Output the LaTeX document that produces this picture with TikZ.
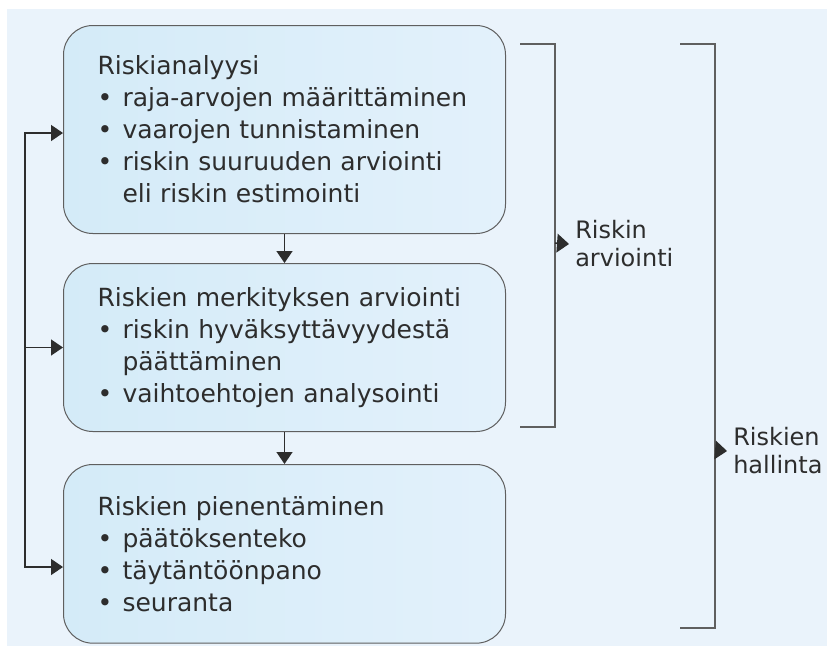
\documentclass[tikz,border=0pt]{standalone}
\usepackage{fontspec}
\setmainfont{DejaVu Sans}
\usetikzlibrary{positioning}
\usetikzlibrary{arrows.meta}
\tikzset{>={Triangle[length=9pt,width=12pt]}}
\definecolor{panelblue}{RGB}{234,243,251}
\definecolor{boxleft}{RGB}{212,235,248}
\definecolor{boxright}{RGB}{227,241,251}
\definecolor{inkgrey}{RGB}{45,45,45}
\definecolor{framegrey}{RGB}{95,95,95}
\newcommand\riskfont{\fontsize{18.75pt}{24pt}\selectfont}
\newcommand\labfont{\fontsize{18pt}{21pt}\selectfont}
\newcommand\riskbullet{\makebox[18.75pt][l]{•}}
\newcommand\riskhang{\hspace*{18.75pt}}
\tikzstyle{riskbox}=[draw=framegrey,line width=0.75pt,rounded corners=22pt,
  left color=boxleft,right color=boxright,text width=280.5pt,inner xsep=25.5pt,
  inner ysep=0pt,align=left,font=\riskfont,text=inkgrey]
\tikzstyle{bracket}=[line width=1.1pt,draw=framegrey]
\tikzstyle{flow}=[line width=1.1pt,draw=inkgrey]
\tikzstyle{brlabel}=[anchor=west,inner xsep=4.5pt,inner ysep=0pt,align=left,
  font=\labfont,text=inkgrey]

\begin{document}
\begin{tikzpicture}[x=0.75pt,y=-0.75pt,node distance=21.75pt]

  % canvas
  \useasboundingbox (0,0) rectangle (827,646);
  \fill[white] (0,0) rectangle (827,646);
  \fill[panelblue] (7,9) rectangle (827,646);

  % boxes
  \node[riskbox,minimum height=156pt,anchor=north west] (ana) at (63,25)
    {Riskianalyysi\\
     \riskbullet raja-arvojen määrittäminen\\
     \riskbullet vaarojen tunnistaminen\\
     \riskbullet riskin suuruuden arviointi\\
     \riskhang eli riskin estimointi};
  \node[riskbox,minimum height=126pt,below=of ana] (merk)
    {Riskien merkityksen arviointi\\
     \riskbullet riskin hyväksyttävyydestä\\
     \riskhang päättäminen\\
     \riskbullet vaihtoehtojen analysointi};
  \node[riskbox,minimum height=134pt,below=24pt of merk] (pien)
    {Riskien pienentäminen\\
     \riskbullet päätöksenteko\\
     \riskbullet täytäntöönpano\\
     \riskbullet seuranta};

  % flow between boxes
  \draw[flow,->] (ana) -- (merk);
  \draw[flow,->] (merk) -- (pien);

  % feedback line
  \coordinate (fbtop) at (25,133);
  \coordinate (fbbot) at (25,567);
  \draw[flow,<->] (fbtop -| ana.west) -- (fbtop) -- (fbbot) -- (fbbot -| pien.west);
  \draw[flow,->] (fbtop |- merk.west) -- (merk.west);

  % brackets
  \draw[bracket] (520,44) -- (555,44) -- (555,427) -- (520,427);
  \draw[bracket] (680,44) -- (715,44) -- (715,628) -- (680,628);
  \coordinate (arvmark) at (555,243);
  \coordinate (halmark) at (715,450);
  \node[brlabel] (arv) at (569,244) {Riskin\\arviointi};
  \node[brlabel] (hal) at (727,451) {Riskien\\hallinta};
  \draw[flow,-{Triangle[length=9pt,width=14pt]}] (arvmark) -- (arv.west);
  \draw[flow,-{Triangle[length=9pt,width=14pt]}] (halmark) -- (hal.west);

\end{tikzpicture}
\end{document}
